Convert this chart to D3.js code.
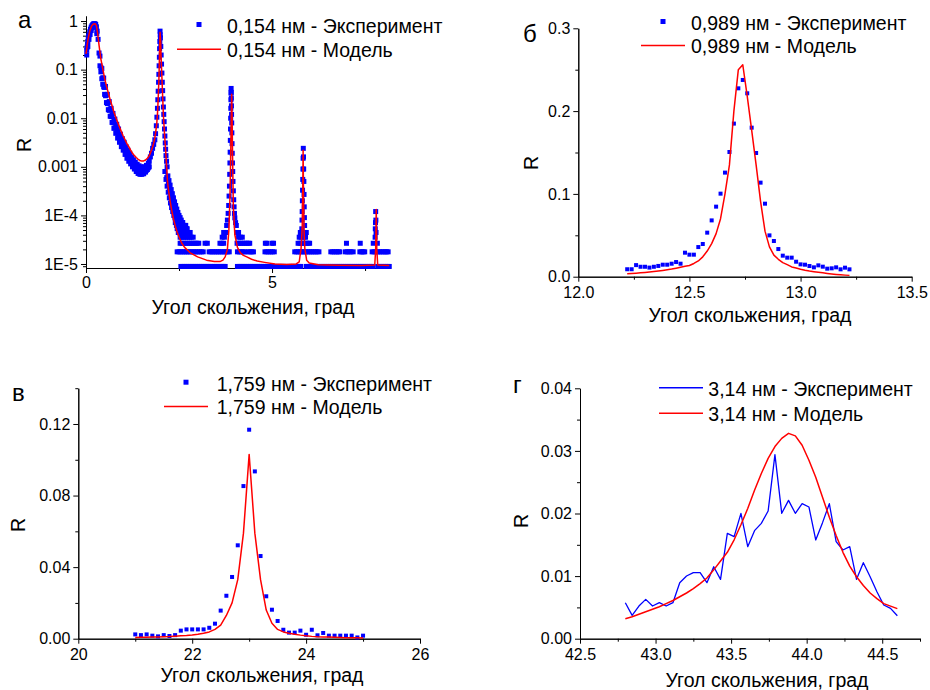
<!DOCTYPE html>
<html><head><meta charset="utf-8">
<script src="https://cdn.jsdelivr.net/npm/d3@7"></script>
<style>
body{margin:0;background:#fff}
svg{display:block}
text{font-family:'Liberation Sans',Arial,Helvetica,sans-serif;fill:#000}
</style>
</head><body>
<svg id="c" width="930" height="690"></svg>
<script>
// ---------------- Panel а (log scale) ----------------
const aModelX = [0.00,0.05,0.10,0.15,0.20,0.25,0.28,0.31,0.35,0.40,0.45,0.50,0.55,0.60,0.65,0.70,0.75,0.80,0.85,0.90,0.95,1.00,1.05,1.10,1.15,1.20,1.25,1.30,1.35,1.40,1.45,1.50,1.55,1.60,1.65,1.70,1.75,1.80,1.84,1.87,1.90,1.92,1.94,1.96,1.975,1.99,2.005,2.02,2.04,2.06,2.08,2.11,2.14,2.17,2.19,2.22,2.26,2.30,2.35,2.40,2.45,2.50,2.57,2.65,2.80,3.00,3.24,3.45,3.60,3.68,3.74,3.80,3.84,3.87,3.89,3.905,3.915,3.925,3.94,3.96,4.00,4.07,4.15,4.23,4.32,4.45,4.60,4.80,5.08,5.40,5.65,5.73,5.78,5.81,5.825,5.835,5.845,5.86,5.88,5.93,6.00,6.24,6.80,7.40,7.76,7.785,7.80,7.815,7.84,8.15];
const aModelY = [0.21,0.40,0.62,0.79,0.87,0.88,0.80,0.58,0.32,0.165,0.105,0.066,0.046,0.033,0.024,0.018,0.0135,0.0105,0.0083,0.0066,0.0053,0.0043,0.0036,0.0030,0.0026,0.0022,0.0019,0.0017,0.00155,0.00143,0.00135,0.00131,0.00132,0.00138,0.0015,0.0017,0.0021,0.0027,0.0036,0.005,0.0075,0.012,0.025,0.065,0.2,0.59,0.4,0.17,0.07,0.028,0.0115,0.0048,0.0022,0.0009,0.0005,0.00032,0.0002,0.00013,0.000085,0.00006,0.000045,0.000036,0.000027,0.000022,0.000017,0.000014,0.000012,0.0000113,0.0000112,0.000012,0.000014,0.00002,0.00005,0.00025,0.002,0.012,0.031,0.012,0.0015,0.00015,0.00004,0.000022,0.000017,0.000015,0.000014,0.0000125,0.0000115,0.0000108,0.00001,0.0000098,0.00001,0.000011,0.000021,0.000054,0.0003,0.0022,0.0003,0.00005,0.000021,0.000012,0.0000105,0.0000096,0.0000094,0.0000093,0.0000095,0.00002,0.000133,0.00002,0.0000095,0.0000093];

const aRiseX = [0.02,0.02,0.03,0.04,0.05,0.06,0.07,0.08,0.10,0.12,0.14,0.16,0.18,0.20,0.22,0.24,0.26,0.28,0.30,0.05,0.08,0.11,0.14,0.17,0.20,0.23,0.26,0.29];
const aRiseY = [0.20,0.25,0.29,0.33,0.38,0.43,0.48,0.52,0.60,0.68,0.75,0.80,0.84,0.87,0.88,0.88,0.85,0.76,0.62,0.30,0.42,0.53,0.64,0.72,0.78,0.80,0.76,0.55];
const aDecayUpX = [0.325,0.375,0.425,0.475,0.525,0.575,0.625,0.675,0.725,0.775,0.825,0.875,0.925,0.975,1.025,1.075,1.125,1.175,1.225,1.275,1.325,1.375,1.425,1.475,1.525,1.575,1.625,1.675];
const aDecayUpY = [0.42,0.19,0.105,0.067,0.045,0.031,0.022,0.016,0.0125,0.0096,0.0075,0.006,0.0047,0.0038,0.0032,0.0026,0.0022,0.0019,0.0016,0.0014,0.00125,0.00113,0.00105,0.001,0.00098,0.001,0.00107,0.00118];
const aDecayMidX = [0.40,0.45,0.50,0.55,0.60,0.65,0.70,0.75,0.80,0.85,0.90,0.95,1.00,1.05,1.10,1.15,1.20,1.25,1.30,1.35,1.40,1.45,1.50,1.55,1.60,1.65];
const aDecayMidY = [0.11,0.068,0.043,0.03,0.021,0.0155,0.0115,0.0088,0.0068,0.0054,0.0043,0.0035,0.0029,0.0024,0.002,0.0017,0.0015,0.0013,0.00118,0.00105,0.00095,0.00088,0.00085,0.00086,0.0009,0.00098];
const aDecayLow2X = [0.375,0.425,0.475,0.525,0.575,0.625,0.675,0.725,0.775,0.825,0.875,0.925,0.975,1.025,1.075,1.125,1.175,1.225,1.275,1.325,1.375,1.425,1.475,1.525,1.575,1.625,1.675];
const aDecayLow2Y = [0.12,0.065,0.044,0.029,0.02,0.0145,0.0108,0.0081,0.0063,0.005,0.004,0.0033,0.0027,0.0023,0.0019,0.0016,0.0014,0.00122,0.0011,0.00098,0.00088,0.0008,0.00077,0.00077,0.00079,0.00085,0.00095];
const aDecayLowX = [0.35,0.40,0.45,0.50,0.55,0.60,0.65,0.70,0.75,0.80,0.85,0.90,0.95,1.00,1.05,1.10,1.15,1.20,1.25,1.30,1.35,1.40,1.45,1.50,1.55,1.60,1.65,1.70];
const aDecayLowY = [0.22,0.09,0.05,0.031,0.021,0.015,0.011,0.0082,0.0062,0.0049,0.0039,0.0032,0.0026,0.0022,0.0018,0.0015,0.0013,0.00115,0.001,0.0009,0.0008,0.00073,0.0007,0.0007,0.00072,0.00078,0.00088,0.001];
const aPeak1X = [1.70,1.73,1.76,1.79,1.82,1.85,1.87,1.89,1.905,1.92,1.93,1.94,1.95,1.958,1.965,1.972,1.978,1.984,1.99,1.995,2.00,2.01,2.02,2.03,2.04,2.05,2.06,2.07,2.08,2.09,2.10,2.11,2.12,2.13,2.14,2.15,2.165,2.18];
const aPeak1Y = [0.0013,0.0016,0.0019,0.0024,0.0029,0.0036,0.0048,0.007,0.0105,0.016,0.024,0.036,0.055,0.08,0.12,0.18,0.27,0.38,0.62,0.52,0.45,0.3,0.2,0.13,0.085,0.055,0.037,0.025,0.017,0.012,0.0085,0.006,0.0043,0.0031,0.0023,0.0017,0.0013,0.001];
const aTailUpX = [2.20,2.23,2.26,2.29,2.32,2.35,2.38,2.41,2.44,2.47,2.50,2.53,2.56,2.59,2.62,2.65,2.68,2.72,2.76,2.80];
const aTailUpY = [6.5e-4,5.2e-4,4.2e-4,3.4e-4,2.8e-4,2.3e-4,1.9e-4,1.6e-4,1.35e-4,1.15e-4,1e-4,9e-5,8e-5,7.1e-5,6.2e-5,6.2e-5,5.3e-5,5.3e-5,4.45e-5,4.45e-5];
const aTailMidX = [2.17,2.215,2.245,2.275,2.305,2.335,2.365,2.395,2.425,2.455,2.485];
const aTailMidY = [6e-4,4.4e-4,3.4e-4,2.7e-4,2.1e-4,1.7e-4,1.4e-4,1.15e-4,9.8e-5,8.9e-5,8e-5];
const aTailLowX = [2.12,2.15,2.18,2.21,2.24,2.27,2.30,2.33,2.36,2.39,2.42,2.45,2.48,2.51,2.54];
const aTailLowY = [8e-4,5.5e-4,4e-4,3e-4,2.3e-4,1.8e-4,1.45e-4,1.2e-4,1e-4,8.9e-5,8e-5,7.1e-5,6.2e-5,5.3e-5,4.45e-5];
const aPeak2X = [3.78,3.80,3.82,3.835,3.845,3.855,3.862,3.868,3.874,3.879,3.884,3.888,3.892,3.895,3.898,3.90,3.903,3.906,3.909,3.912,3.916,3.92,3.925,3.93,3.936,3.943,3.95,3.96,3.97,3.98,3.99,4.00,4.02,4.04];
const aPeak2Y = [6.2e-5,8e-5,1.1e-4,1.6e-4,2.5e-4,4e-4,7e-4,1.2e-3,2e-3,3.5e-3,6e-3,0.01,0.016,0.024,0.033,0.041,0.034,0.026,0.018,0.012,0.008,0.005,0.003,0.0019,0.0012,8e-4,5e-4,3.2e-4,2.1e-4,1.5e-4,1.1e-4,8.9e-5,7.1e-5,6.2e-5];
const aPeak3X = [5.80,5.805,5.81,5.815,5.82,5.825,5.83,5.835,5.84,5.845,5.85,5.855,5.86,5.865,5.87,5.875];
const aPeak3Y = [5.3e-5,8e-5,1.2e-4,2e-4,3.3e-4,5.5e-4,9e-4,0.0015,0.0024,0.0016,9e-4,5e-4,2.7e-4,1.5e-4,9e-5,6.2e-5];
const aPeak4X = [7.77,7.775,7.78,7.785,7.79,7.795];
const aPeak4Y = [3.56e-5,5.3e-5,7.1e-5,1.2e-4,8e-5,4.45e-5];
// detector-count levels (1..8 counts) and the x positions seen at each level
const aRowLevels = [8.9e-6,1.78e-5,2.67e-5,3.56e-5,4.45e-5,5.34e-5,6.23e-5,7.12e-5];
const aRow1X = [2.55,2.60,2.65,2.70,2.75,2.80,2.85,2.90,2.95,3.00,3.05,3.10,3.15,3.20,3.25,3.30,3.35,3.40,3.45,3.50,3.55,3.60,3.65,3.70,3.74,4.07,4.12,4.17,4.22,4.27,4.32,4.37,4.42,4.47,4.52,4.57,4.62,4.67,4.72,4.77,4.82,4.87,4.92,4.97,5.02,5.07,5.12,5.17,5.22,5.27,5.32,5.37,5.42,5.47,5.52,5.57,5.62,5.67,5.72,5.77,5.92,5.97,6.02,6.07,6.12,6.17,6.22,6.27,6.32,6.37,6.42,6.47,6.52,6.57,6.62,6.67,6.72,6.77,6.82,6.87,6.92,6.97,7.02,7.07,7.12,7.17,7.22,7.27,7.32,7.37,7.42,7.47,7.52,7.57,7.62,7.67,7.72,7.85,7.90,7.95,8.00,8.05,8.10,8.15];
const aRow2X = [2.45,2.50,2.55,2.60,2.65,2.70,2.75,2.80,2.85,2.90,2.95,3.00,3.05,3.10,3.15,3.31,3.36,3.41,3.46,3.51,3.56,3.61,3.66,3.71,3.76,3.81,3.85,4.07,4.12,4.17,4.22,4.27,4.36,4.41,4.46,4.50,4.81,4.86,4.91,4.96,5.01,5.06,5.61,5.66,5.71,5.76,5.81,5.86,5.91,5.96,6.01,6.06,6.11,6.16,6.21,6.26,6.58,6.63,6.68,6.73,6.78,6.82,6.97,7.02,7.07,7.12,7.18,7.36,7.41,7.45,7.49,7.69,7.74,7.79,7.84,7.89,7.94,7.99,8.04,8.08,8.12];
const aRow3X = [2.53,2.58,2.63,2.68,2.73,2.78,2.83,2.88,2.93,2.98,3.03,3.20,3.26,3.60,3.65,3.70,4.06,4.11,4.16,4.21,4.26,4.31,4.36,4.40,4.82,4.86,5.00,5.04,5.70,5.75,5.80,5.86,5.92,5.97,6.01,7.00,7.37,7.72,7.83];
const aRow4X = [2.53,2.58,2.63,2.68,2.73,2.78,2.83,2.88,3.66,3.72,4.10,4.15,4.20,5.73,5.78,5.86,5.90];
const aRow5X = [2.48,2.53,2.58,2.63,2.68,2.73,2.78,3.70,3.75,4.05,4.10,5.76,5.80,5.88,5.92];
const aRow6X = [2.45,2.50,2.55,2.60,2.65,2.70];
const aRow7X = [2.43,2.48,2.53,2.58,2.63,2.68];
const aRow8X = [2.40,2.45,2.50,2.55,2.60];
const aXTicks = [0,5], aXTickLabels = ["0","5"], aXMinor = [2.5,7.5];
const aYTicks = [1,0.1,0.01,0.001,1e-4,1e-5], aYTickLabels = ["1","0.1","0.01","0.001","1E-4","1E-5"];

// ---------------- Panel б ----------------
const bX = [12.22,12.24,12.26,12.28,12.30,12.32,12.34,12.36,12.38,12.40,12.42,12.44,12.46,12.48,12.50,12.52,12.54,12.56,12.58,12.60,12.62,12.64,12.66,12.68,12.70,12.72,12.74,12.76,12.78,12.80,12.82,12.84,12.86,12.88,12.90,12.92,12.94,12.96,12.98,13.00,13.02,13.04,13.06,13.08,13.10,13.12,13.14,13.16,13.18,13.20,13.22];
const bExp = [0.009,0.009,0.014,0.012,0.012,0.011,0.012,0.013,0.0145,0.0145,0.0157,0.0177,0.0157,0.029,0.0266,0.0266,0.0358,0.0395,0.0532,0.068,0.0846,0.1003,0.1257,0.1506,0.1849,0.2275,0.2376,0.2215,0.18,0.1494,0.1136,0.0882,0.0499,0.0431,0.0334,0.0254,0.023,0.023,0.0181,0.0149,0.0145,0.0129,0.0113,0.0137,0.0121,0.0097,0.0101,0.0113,0.0089,0.0109,0.0089];
const bModel = [0.0036,0.004,0.0043,0.0047,0.0051,0.0056,0.0062,0.0068,0.0075,0.0083,0.0092,0.0103,0.0115,0.0125,0.0135,0.016,0.019,0.024,0.031,0.040,0.052,0.070,0.100,0.135,0.200,0.250,0.256,0.218,0.177,0.135,0.091,0.055,0.036,0.026,0.021,0.017,0.0145,0.0118,0.0105,0.0090,0.0078,0.0068,0.0060,0.0053,0.0047,0.0040,0.0034,0.0028,0.0023,0.0019,0.0016];
const bXTicks = [12,12.5,13,13.5], bXTickLabels = ["12.0","12.5","13.0","13.5"], bXMinor = [12.25,12.75,13.25];
const bYTicks = [0,0.1,0.2,0.3], bYTickLabels = ["0.0","0.1","0.2","0.3"], bYMinor = [0.05,0.15,0.25];

// ---------------- Panel в ----------------
const cX = [21.0,21.1,21.2,21.3,21.4,21.5,21.6,21.7,21.8,21.9,22.0,22.1,22.2,22.3,22.4,22.5,22.6,22.7,22.8,22.9,23.0,23.1,23.2,23.3,23.4,23.5,23.6,23.7,23.8,23.9,24.0,24.1,24.2,24.3,24.4,24.5,24.6,24.7,24.8,24.9,25.0];
const cExp = [0.0024,0.002,0.0024,0.0017,0.0013,0.002,0.0015,0.002,0.0045,0.0052,0.0052,0.0052,0.0052,0.0061,0.0084,0.0157,0.024,0.0345,0.0522,0.0853,0.1168,0.0935,0.0462,0.0237,0.0162,0.0099,0.005,0.0034,0.0034,0.0045,0.0022,0.005,0.0019,0.0032,0.0017,0.0017,0.0017,0.0017,0.0017,0.0007,0.0017];
const cModel = [0.0007,0.0008,0.0008,0.0009,0.0010,0.0011,0.0012,0.0014,0.0016,0.0018,0.0021,0.0025,0.0030,0.0038,0.0052,0.0076,0.013,0.020,0.033,0.059,0.103,0.059,0.033,0.016,0.0086,0.0052,0.0038,0.0031,0.0025,0.0020,0.0016,0.0013,0.0011,0.0010,0.0009,0.0008,0.0007,0.0006,0.0005,0.0005,0.0004];
const cXTicks = [20,22,24,26], cXTickLabels = ["20","22","24","26"], cXMinor = [21,23,25];
const cYTicks = [0,0.04,0.08,0.12], cYTickLabels = ["0.00","0.04","0.08","0.12"], cYMinor = [0.02,0.06,0.10,0.14];

// ---------------- Panel г ----------------
const dX = [42.800,42.845,42.890,42.935,42.980,43.025,43.070,43.115,43.160,43.205,43.250,43.295,43.340,43.385,43.430,43.475,43.520,43.565,43.610,43.655,43.700,43.745,43.790,43.835,43.880,43.925,43.970,44.015,44.060,44.105,44.150,44.195,44.240,44.285,44.330,44.375,44.420,44.465,44.510,44.555,44.600];
const dExp = [0.00575,0.00373,0.00522,0.00628,0.00522,0.00575,0.00522,0.00575,0.00895,0.01001,0.01055,0.01055,0.00895,0.0115,0.00948,0.01683,0.0163,0.02003,0.0147,0.01726,0.01843,0.0204,0.0294,0.02003,0.0221,0.02003,0.02157,0.02104,0.01577,0.01854,0.02157,0.0155,0.01417,0.0147,0.00948,0.01214,0.00991,0.00751,0.00538,0.00485,0.00367];
const dModel = [0.0032,0.0035,0.0039,0.0043,0.0047,0.0051,0.0056,0.0061,0.0067,0.0073,0.0080,0.0088,0.0097,0.0110,0.0124,0.0138,0.0158,0.0182,0.0208,0.0237,0.0264,0.0288,0.0307,0.0320,0.0328,0.0324,0.0309,0.0285,0.0258,0.0226,0.0194,0.0165,0.0138,0.0116,0.0099,0.0085,0.0073,0.0064,0.0056,0.0052,0.0048];
const dXTicks = [42.5,43,43.5,44,44.5], dXTickLabels = ["42.5","43.0","43.5","44.0","44.5"], dXMinor = [42.75,43.25,43.75,44.25,44.75];
const dYTicks = [0,0.01,0.02,0.03,0.04], dYTickLabels = ["0.00","0.01","0.02","0.03","0.04"], dYMinor = [0.005,0.015,0.025,0.035];

const legendA = ["0,154 нм - Эксперимент","0,154 нм - Модель"];
const legendB = ["0,989 нм - Эксперимент","0,989 нм - Модель"];
const legendC = ["1,759 нм - Эксперимент","1,759 нм - Модель"];
const legendD = ["3,14 нм - Эксперимент","3,14 нм - Модель"];
const xTitle = "Угол скольжения, град";

// ================= drawing =================
const FONT = "'Liberation Sans', Arial, Helvetica, sans-serif";
const BLUE = "#0000ff", RED = "#ff0000";
const svg = d3.select("#c");
const zip = (xs, ys) => xs.map((x, i) => [x, ys[i]]);

function drawAxes(x, y, cfg) {
  const y0 = y.range()[0], x0 = x.range()[0];
  const style = g => { g.attr("font-family", FONT).attr("font-size", 16);
    g.selectAll("path,line").attr("stroke", "#000").attr("stroke-width", 1); };
  svg.append("g").attr("transform", `translate(0,${y0})`)
    .call(d3.axisBottom(x).tickValues(cfg.xMinor).tickSize(3).tickSizeOuter(0).tickFormat("")).call(style);
  svg.append("g").attr("transform", `translate(0,${y0})`)
    .call(d3.axisBottom(x).tickValues(cfg.xTicks).tickSize(5).tickSizeOuter(0).tickPadding(cfg.xPad)
      .tickFormat((d, i) => cfg.xLabels[i])).call(style);
  svg.append("g").attr("transform", `translate(${x0},0)`)
    .call(d3.axisLeft(y).tickValues(cfg.yMinor).tickSize(3).tickSizeOuter(0).tickFormat("")).call(style);
  svg.append("g").attr("transform", `translate(${x0},0)`)
    .call(d3.axisLeft(y).tickValues(cfg.yTicks).tickSize(5).tickSizeOuter(0).tickPadding(3)
      .tickFormat((d, i) => cfg.yLabels[i])).call(style);
}
function text(x, y, s, size, anchor, rot) {
  const t = svg.append("text").attr("font-size", size).attr("text-anchor", anchor || "start").text(s);
  if (rot) t.attr("transform", `translate(${x},${y}) rotate(${rot})`); else t.attr("x", x).attr("y", y);
  return t;
}
function squares(x, y, pts, s) {
  svg.append("g").selectAll("rect").data(pts).join("rect")
    .attr("x", d => x(d[0]) - s / 2).attr("y", d => y(d[1]) - s / 2)
    .attr("width", s).attr("height", s).attr("fill", BLUE);
}
function line(x, y, pts, color, w) {
  svg.append("path").datum(pts).attr("fill", "none").attr("stroke", color).attr("stroke-width", w)
    .attr("stroke-linejoin", "round").attr("d", d3.line().x(d => x(d[0])).y(d => y(d[1])));
}
function legend(lx, tx, yb1, yb2, labels, firstIsLine) {
  if (firstIsLine) svg.append("line").attr("x1", lx[0]).attr("x2", lx[1]).attr("y1", yb1 - 8).attr("y2", yb1 - 8).attr("stroke", BLUE).attr("stroke-width", 1.5);
  else svg.append("rect").attr("x", (lx[0] + lx[1]) / 2 - 2.5).attr("y", yb1 - 11).attr("width", 5).attr("height", 5).attr("fill", BLUE);
  svg.append("line").attr("x1", lx[0]).attr("x2", lx[1]).attr("y1", yb2 - 7.5).attr("y2", yb2 - 7.5).attr("stroke", RED).attr("stroke-width", 1.5);
  text(tx, yb1, labels[0], 19.5);
  text(tx, yb2, labels[1], 19.5);
}

// ---- Panel а ----
{
  const x = d3.scaleLinear().domain([0, 8.17]).range([86, 390]);
  const y = d3.scaleLog().domain([8.27e-6, 1.27]).range([268, 16]);
  const minor = [];
  for (let e = -6; e <= 0; e++) for (let m = 2; m <= 9; m++) { const v = m * Math.pow(10, e); if (v > 8.27e-6 && v < 1.27) minor.push(v); }
  drawAxes(x, y, {xTicks: aXTicks, xLabels: aXTickLabels, xMinor: aXMinor, yTicks: aYTicks, yLabels: aYTickLabels, yMinor: minor, xPad: 4});
  let pts = [].concat(zip(aRiseX, aRiseY), zip(aDecayUpX, aDecayUpY), zip(aDecayMidX, aDecayMidY), zip(aDecayLow2X, aDecayLow2Y), zip(aDecayLowX, aDecayLowY),
    zip(aPeak1X, aPeak1Y), zip(aTailUpX, aTailUpY), zip(aTailMidX, aTailMidY), zip(aTailLowX, aTailLowY),
    zip(aPeak2X, aPeak2Y), zip(aPeak3X, aPeak3Y), zip(aPeak4X, aPeak4Y));
  [aRow1X, aRow2X, aRow3X, aRow4X, aRow5X, aRow6X, aRow7X, aRow8X].forEach((row, i) => row.forEach(v => pts.push([v, aRowLevels[i]])));
  squares(x, y, pts, 5);
  line(x, y, zip(aModelX, aModelY), RED, 1.5);
  text(31, 145, "R", 19.5, "middle", -90);
  text(253, 314, xTitle, 19.5, "middle");
  text(18, 28, "а", 24);
  legend([177, 221], 227, 33, 56.7, legendA, false);
}
// ---- Panel б ----
{
  const x = d3.scaleLinear().domain([12, 13.5]).range([578.3, 911.7]);
  const y = d3.scaleLinear().domain([0, 0.3]).range([276.7, 28.3]);
  drawAxes(x, y, {xTicks: bXTicks, xLabels: bXTickLabels, xMinor: bXMinor, yTicks: bYTicks, yLabels: bYTickLabels, yMinor: bYMinor, xPad: 4.5});
  squares(x, y, zip(bX, bExp), 4);
  line(x, y, zip(bX, bModel), RED, 1.5);
  text(538, 163, "R", 19.5, "middle", -90);
  text(750, 322, xTitle, 19.5, "middle");
  text(523, 42, "б", 24);
  legend([641, 685], 691, 30, 53, legendB, false);
}
// ---- Panel в ----
{
  const x = d3.scaleLinear().domain([20, 26]).range([78.3, 420]);
  const y = d3.scaleLinear().domain([0, 0.14]).range([638.7, 388.2]);
  drawAxes(x, y, {xTicks: cXTicks, xLabels: cXTickLabels, xMinor: cXMinor, yTicks: cYTicks, yLabels: cYTickLabels, yMinor: cYMinor, xPad: 4.5});
  squares(x, y, zip(cX, cExp), 4);
  line(x, y, zip(cX, cModel), RED, 1.5);
  text(25, 525, "R", 19.5, "middle", -90);
  text(262, 682, xTitle, 19.5, "middle");
  text(12, 401, "в", 24);
  legend([164, 208], 216.7, 390.7, 414, legendC, false);
}
// ---- Panel г ----
{
  const x = d3.scaleLinear().domain([42.5, 44.75]).range([580, 920]);
  const y = d3.scaleLinear().domain([0, 0.04]).range([638.7, 388.3]);
  drawAxes(x, y, {xTicks: dXTicks, xLabels: dXTickLabels, xMinor: dXMinor, yTicks: dYTicks, yLabels: dYTickLabels, yMinor: dYMinor, xPad: 4.5});
  line(x, y, zip(dX, dExp), BLUE, 1.3);
  line(x, y, zip(dX, dModel), RED, 1.5);
  text(528, 521, "R", 19.5, "middle", -90);
  text(767, 687, xTitle, 19.5, "middle");
  text(513, 393, "г", 24);
  legend([659, 703], 708.3, 395.7, 420.7, legendD, true);
}
</script>
</body></html>
